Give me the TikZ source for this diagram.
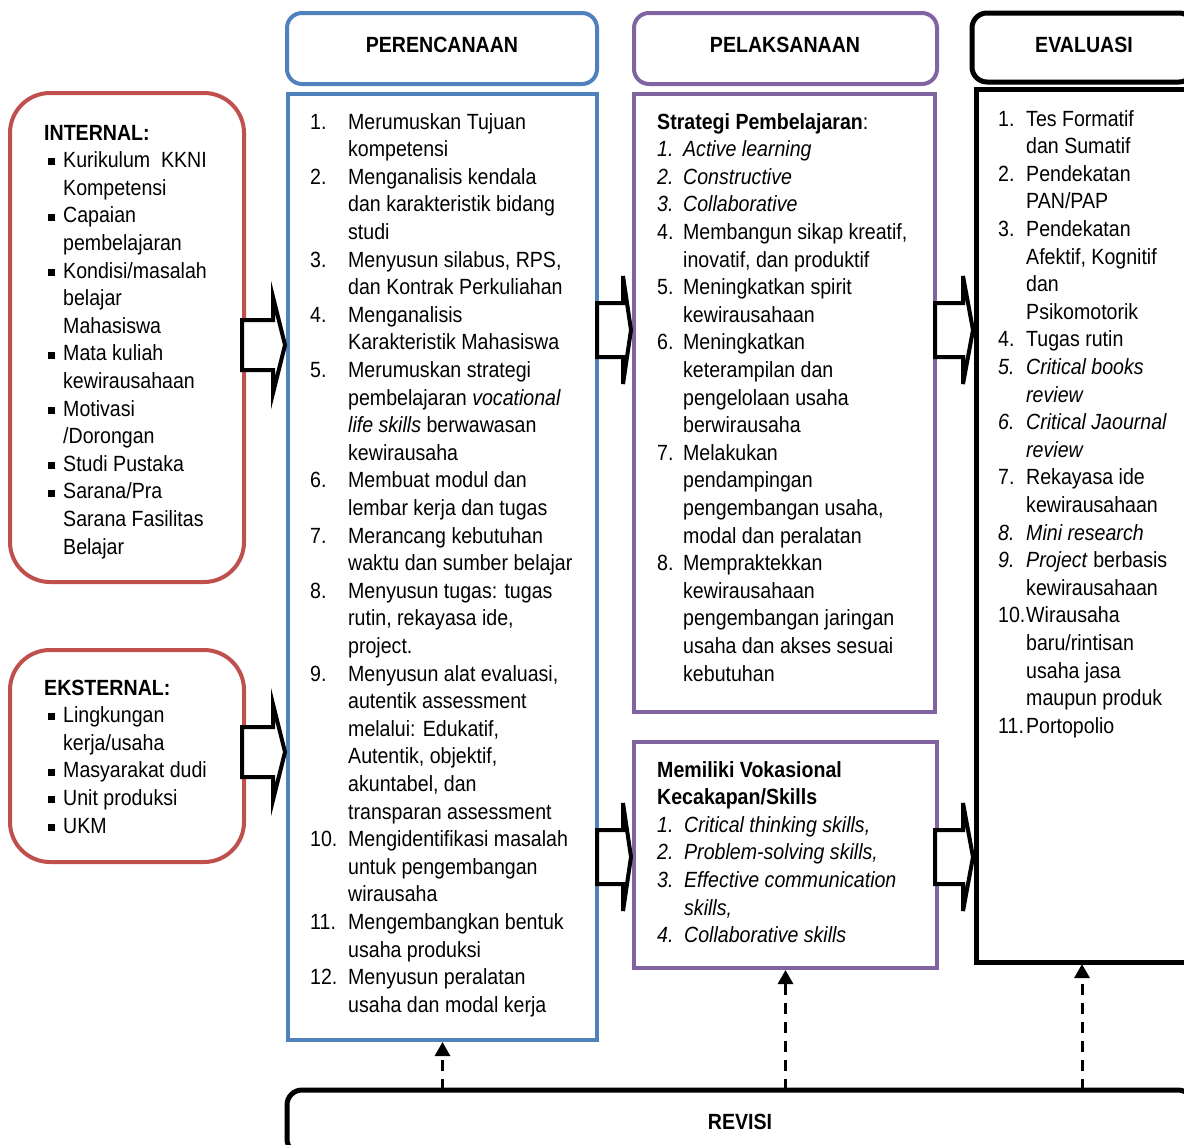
\documentclass[tikz,border=0pt]{standalone}
\usepackage{fontspec}
\setmainfont{Liberation Sans}[FakeStretch=0.89]
\usetikzlibrary{arrows.meta}
\definecolor{cred}{HTML}{C0504D}
\definecolor{cblue}{HTML}{4F81BD}
\definecolor{cpurp}{HTML}{8064A2}
\newcommand{\sqb}{\hspace*{4pt}\rule[2.3pt]{7pt}{7pt}}
\begin{document}
\begin{tikzpicture}[x=1pt,y=-1pt,
  box/.style={draw, line width=4pt, inner sep=0pt, outer sep=0pt, anchor=north west},
  txt/.style={inner sep=0pt, anchor=base west, align=left, font=\fontsize{22}{27.6}\selectfont},
  head/.style={inner sep=0pt, font=\fontsize{22}{26}\selectfont\bfseries},
  blk/.style={draw=black, line width=4pt, fill=white, line join=miter},
  dasharr/.style={draw=black, line width=3pt, dash pattern=on 11pt off 8pt, -{Triangle[width=15pt,length=14pt]}, shorten >=2pt}
]
\useasboundingbox (0,0) rectangle (1184,1144);
\clip (0,0) rectangle (1184,1144);

% boxes
\node[box, draw=cred, rounded corners=40pt, minimum width=234pt, minimum height=489pt] (intbox) at (10,93) {};
\node[box, draw=cred, rounded corners=40pt, minimum width=234pt, minimum height=212pt] (extbox) at (10,650) {};
\node[box, draw=cblue, rounded corners=15pt, minimum width=310pt, minimum height=71pt] (perhead) at (287,13) {};
\node[box, draw=cblue, minimum width=309pt, minimum height=946pt] (perbody) at (288,94) {};
\node[box, draw=cpurp, rounded corners=15pt, minimum width=303pt, minimum height=71pt] (pelhead) at (634,13) {};
\node[box, draw=cpurp, minimum width=301pt, minimum height=618pt] (pelbody) at (634,94) {};
\node[box, draw=cpurp, minimum width=303pt, minimum height=226pt] (vokbox) at (634,742) {};
\node[box, draw=black, line width=5pt, rounded corners=15pt, minimum width=222pt, minimum height=69pt] (evahead) at (972,13) {};
\node[box, draw=black, line width=5pt, minimum width=212pt, minimum height=873pt] (evabody) at (976,89) {};
\node[box, draw=black, line width=5pt, rounded corners=15pt, minimum width=906pt, minimum height=64pt] (revisi) at (287,1090) {};

% titles
\node[head] (pertitle) at (442,45) {PERENCANAAN};
\node[head] (peltitle) at (785,45) {PELAKSANAAN};
\node[head] (evatitle) at (1084,45) {EVALUASI};
\node[head] (revtitle) at (740,1122) {REVISI};

% block arrows
\newcommand{\blockarr}[6]{\draw[blk] (#1,#4-#5) -- (#2,#4-#5) -- (#2,#4-#6) -- (#3,#4) -- (#2,#4+#6) -- (#2,#4+#5) -- (#1,#4+#5) -- cycle;}
\blockarr{242}{273}{285}{345}{25}{48}
\blockarr{242}{273}{285}{752}{25}{48}
\blockarr{597}{623}{631}{330}{27}{54}
\blockarr{597}{623}{631}{857}{27}{54}
\blockarr{935}{963}{973}{330}{27}{54}
\blockarr{935}{963}{973}{857}{27}{54}

% dashed arrows
\draw[dasharr] (perbody.south |- revisi.north) -- (perbody.south);
\draw[dasharr] (vokbox.south |- revisi.north) -- (vokbox.south);
\draw[dasharr] (evabody.south |- revisi.north) -- (evabody.south);

% texts
\node[txt] (inttext) at (44,140) {\begin{tabular}[t]{@{}p{19pt}@{}l@{}}
\multicolumn{2}{@{}l@{}}{\textbf{INTERNAL:}}\\
\sqb & Kurikulum\ \ KKNI\\
 & Kompetensi\\
\sqb & Capaian\\
 & pembelajaran\\
\sqb & Kondisi/masalah\\
 & belajar\\
 & Mahasiswa\\
\sqb & Mata kuliah\\
 & kewirausahaan\\
\sqb & Motivasi\\
 & /Dorongan\\
\sqb & Studi Pustaka\\
\sqb & Sarana/Pra\\
 & Sarana Fasilitas\\
 & Belajar
\end{tabular}};

\node[txt] (exttext) at (44,695) {\begin{tabular}[t]{@{}p{19pt}@{}l@{}}
\multicolumn{2}{@{}l@{}}{\textbf{EKSTERNAL:}}\\
\sqb & Lingkungan\\
 & kerja/usaha\\
\sqb & Masyarakat dudi\\
\sqb & Unit produksi\\
\sqb & UKM
\end{tabular}};

\node[txt] (pertext) at (310,129) {\begin{tabular}[t]{@{}p{38pt}@{}l@{}}
1. & Merumuskan Tujuan\\
 & kompetensi\\
2. & Menganalisis kendala\\
 & dan karakteristik bidang\\
 & studi\\
3. & Menyusun silabus, RPS,\\
 & dan Kontrak Perkuliahan\\
4. & Menganalisis\\
 & Karakteristik Mahasiswa\\
5. & Merumuskan strategi\\
 & pembelajaran \textit{vocational}\\
 & \textit{life skills} berwawasan\\
 & kewirausaha\\
6. & Membuat modul dan\\
 & lembar kerja dan tugas\\
7. & Merancang kebutuhan\\
 & waktu dan sumber belajar\\
8. & Menyusun tugas: tugas\\
 & rutin, rekayasa ide,\\
 & project.\\
9. & Menyusun alat evaluasi,\\
 & autentik assessment\\
 & melalui: Edukatif,\\
 & Autentik, objektif,\\
 & akuntabel, dan\\
 & transparan assessment\\
10. & Mengidentifikasi masalah\\
 & untuk pengembangan\\
 & wirausaha\\
11. & Mengembangkan bentuk\\
 & usaha produksi\\
12. & Menyusun peralatan\\
 & usaha dan modal kerja
\end{tabular}};

\node[txt] (peltext) at (657,129) {\begin{tabular}[t]{@{}p{26pt}@{}l@{}}
\multicolumn{2}{@{}l@{}}{\textbf{Strategi Pembelajaran}:}\\
\textit{1.} & \textit{Active learning}\\
\textit{2.} & \textit{Constructive}\\
\textit{3.} & \textit{Collaborative}\\
4. & Membangun sikap kreatif,\\
 & inovatif, dan produktif\\
5. & Meningkatkan spirit\\
 & kewirausahaan\\
6. & Meningkatkan\\
 & keterampilan dan\\
 & pengelolaan usaha\\
 & berwirausaha\\
7. & Melakukan\\
 & pendampingan\\
 & pengembangan usaha,\\
 & modal dan peralatan\\
8. & Mempraktekkan\\
 & kewirausahaan\\
 & pengembangan jaringan\\
 & usaha dan akses sesuai\\
 & kebutuhan
\end{tabular}};

\node[txt] (voktext) at (657,777) {\begin{tabular}[t]{@{}p{27pt}@{}l@{}}
\multicolumn{2}{@{}l@{}}{\textbf{Memiliki Vokasional}}\\
\multicolumn{2}{@{}l@{}}{\textbf{Kecakapan/Skills}}\\
\textit{1.} & \textit{Critical thinking skills,}\\
\textit{2.} & \textit{Problem-solving skills,}\\
\textit{3.} & \textit{Effective communication}\\
 & \textit{skills,}\\
\textit{4.} & \textit{Collaborative skills}
\end{tabular}};

\node[txt] (evatext) at (998,126) {\begin{tabular}[t]{@{}p{28pt}@{}l@{}}
1. & Tes Formatif\\
 & dan Sumatif\\
2. & Pendekatan\\
 & PAN/PAP\\
3. & Pendekatan\\
 & Afektif, Kognitif\\
 & dan\\
 & Psikomotorik\\
4. & Tugas rutin\\
\textit{5.} & \textit{Critical books}\\
 & \textit{review}\\
\textit{6.} & \textit{Critical Jaournal}\\
 & \textit{review}\\
7. & Rekayasa ide\\
 & kewirausahaan\\
\textit{8.} & \textit{Mini research}\\
\textit{9.} & \textit{Project} berbasis\\
 & kewirausahaan\\
10. & Wirausaha\\
 & baru/rintisan\\
 & usaha jasa\\
 & maupun produk\\
11. & Portopolio
\end{tabular}};
\end{tikzpicture}
\end{document}
